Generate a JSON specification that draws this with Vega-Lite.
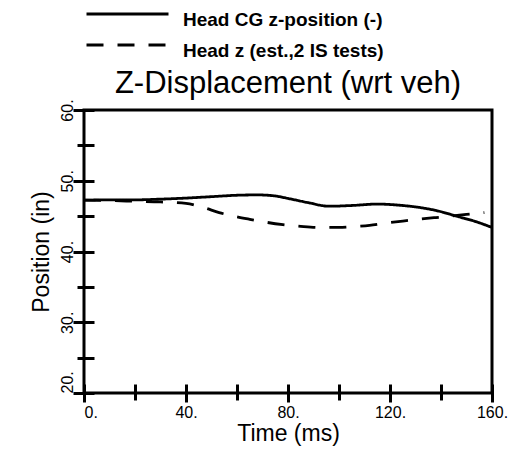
{
  "$schema": "https://vega.github.io/schema/vega-lite/v6.json",
  "autosize": "none",
  "width": 408,
  "height": 283,
  "padding": {"left": 84, "top": 110, "right": 24, "bottom": 56},
  "background": "white",
  "config": {
    "view": {"stroke": "black", "strokeWidth": 3},
    "font": "Liberation Sans"
  },
  "title": {
    "text": "Z-Displacement (wrt veh)",
    "fontSize": 31,
    "fontWeight": "normal",
    "font": "Liberation Sans",
    "color": "black",
    "anchor": "middle",
    "offset": -96
  },
  "data": {
    "values": [
      {"t": 0, "v": 47.25, "s": "Head CG z-position (-)"},
      {"t": 10, "v": 47.3, "s": "Head CG z-position (-)"},
      {"t": 20, "v": 47.3, "s": "Head CG z-position (-)"},
      {"t": 30, "v": 47.4, "s": "Head CG z-position (-)"},
      {"t": 40, "v": 47.55, "s": "Head CG z-position (-)"},
      {"t": 50, "v": 47.75, "s": "Head CG z-position (-)"},
      {"t": 60, "v": 47.95, "s": "Head CG z-position (-)"},
      {"t": 68, "v": 48.0, "s": "Head CG z-position (-)"},
      {"t": 75, "v": 47.85, "s": "Head CG z-position (-)"},
      {"t": 80, "v": 47.5, "s": "Head CG z-position (-)"},
      {"t": 88, "v": 46.9, "s": "Head CG z-position (-)"},
      {"t": 96, "v": 46.4, "s": "Head CG z-position (-)"},
      {"t": 105, "v": 46.5, "s": "Head CG z-position (-)"},
      {"t": 115, "v": 46.7, "s": "Head CG z-position (-)"},
      {"t": 125, "v": 46.5, "s": "Head CG z-position (-)"},
      {"t": 132, "v": 46.2, "s": "Head CG z-position (-)"},
      {"t": 138, "v": 45.8, "s": "Head CG z-position (-)"},
      {"t": 147, "v": 44.9, "s": "Head CG z-position (-)"},
      {"t": 153, "v": 44.3, "s": "Head CG z-position (-)"},
      {"t": 160, "v": 43.4, "s": "Head CG z-position (-)"},
      {"t": 0, "v": 47.25, "s": "Head z (est.,2 IS tests)"},
      {"t": 10, "v": 47.2, "s": "Head z (est.,2 IS tests)"},
      {"t": 20, "v": 47.1, "s": "Head z (est.,2 IS tests)"},
      {"t": 30, "v": 47.0, "s": "Head z (est.,2 IS tests)"},
      {"t": 40, "v": 46.8, "s": "Head z (est.,2 IS tests)"},
      {"t": 47, "v": 46.2, "s": "Head z (est.,2 IS tests)"},
      {"t": 53, "v": 45.5, "s": "Head z (est.,2 IS tests)"},
      {"t": 60, "v": 44.9, "s": "Head z (est.,2 IS tests)"},
      {"t": 65, "v": 44.55, "s": "Head z (est.,2 IS tests)"},
      {"t": 72, "v": 44.1, "s": "Head z (est.,2 IS tests)"},
      {"t": 78, "v": 43.8, "s": "Head z (est.,2 IS tests)"},
      {"t": 85, "v": 43.55, "s": "Head z (est.,2 IS tests)"},
      {"t": 92, "v": 43.4, "s": "Head z (est.,2 IS tests)"},
      {"t": 100, "v": 43.4, "s": "Head z (est.,2 IS tests)"},
      {"t": 105, "v": 43.5, "s": "Head z (est.,2 IS tests)"},
      {"t": 112, "v": 43.7, "s": "Head z (est.,2 IS tests)"},
      {"t": 118, "v": 44.0, "s": "Head z (est.,2 IS tests)"},
      {"t": 125, "v": 44.3, "s": "Head z (est.,2 IS tests)"},
      {"t": 131, "v": 44.55, "s": "Head z (est.,2 IS tests)"},
      {"t": 138, "v": 44.8, "s": "Head z (est.,2 IS tests)"},
      {"t": 144, "v": 45.0, "s": "Head z (est.,2 IS tests)"},
      {"t": 150, "v": 45.25, "s": "Head z (est.,2 IS tests)"},
      {"t": 157, "v": 45.5, "s": "Head z (est.,2 IS tests)"}
    ]
  },
  "mark": {"type": "line", "color": "black", "strokeWidth": 2.8, "interpolate": "monotone"},
  "encoding": {
    "x": {
      "field": "t",
      "type": "quantitative",
      "scale": {"domain": [0, 160], "nice": false, "zero": false},
      "axis": {
        "title": "Time (ms)",
        "titleFontSize": 23,
        "titleFontWeight": "normal",
        "titleColor": "black",
        "titleFont": "Liberation Sans",
        "titlePadding": 2,
        "values": [0, 20, 40, 60, 80, 100, 120, 140, 160],
        "domain": false,
        "grid": false,
        "offset": -9,
        "tickSize": {"condition": {"test": "datum.value % 40 !== 0", "value": 16}, "value": 18},
        "tickWidth": 3,
        "tickColor": "black",
        "labelExpr": "datum.value % 40 === 0 ? datum.value + '.' : ''",
        "labelFontSize": 16,
        "labelColor": "black",
        "labelFont": "Liberation Sans",
        "labelPadding": 2,
        "labelAlign": {"condition": {"test": "datum.value === 0", "value": "left"}, "value": "center"}
      }
    },
    "y": {
      "field": "v",
      "type": "quantitative",
      "scale": {"domain": [20, 60], "nice": false, "zero": false},
      "axis": {
        "title": "Position (in)",
        "titleFontSize": 23,
        "titleFontWeight": "normal",
        "titleColor": "black",
        "titleFont": "Liberation Sans",
        "titlePadding": 6,
        "values": [20, 25, 30, 35, 40, 45, 50, 55, 60],
        "domain": false,
        "grid": false,
        "offset": -10,
        "tickSize": {"condition": {"test": "datum.value % 10 !== 0", "value": 17}, "value": 21},
        "tickWidth": 3,
        "tickColor": "black",
        "labelExpr": "datum.value % 10 === 0 ? datum.value + '.' : ''",
        "labelFontSize": 16,
        "labelColor": "black",
        "labelFont": "Liberation Sans",
        "labelAngle": 270,
        "labelBaseline": "alphabetic",
        "labelPadding": 1,
        "labelAlign": {"condition": {"test": "datum.value === 20", "value": "left"}, "value": "center"}
      }
    },
    "strokeDash": {
      "field": "s",
      "type": "nominal",
      "scale": {
        "domain": ["Head CG z-position (-)", "Head z (est.,2 IS tests)"],
        "range": [[1, 0], [17, 14]]
      },
      "legend": {
        "title": null,
        "orient": "none",
        "legendX": 1,
        "legendY": -106,
        "padding": 0,
        "symbolType": "stroke",
        "symbolSize": 6724,
        "symbolStrokeWidth": 2.8,
        "symbolStrokeColor": "black",
        "clipHeight": 20,
        "labelFontSize": 19,
        "labelFontWeight": "bold",
        "labelFont": "Liberation Sans",
        "labelColor": "black",
        "labelOffset": 13,
        "labelLimit": 0,
        "rowPadding": 5,
        "encode": {"labels": {"update": {"dy": {"value": 6}}}}
      }
    }
  }
}
